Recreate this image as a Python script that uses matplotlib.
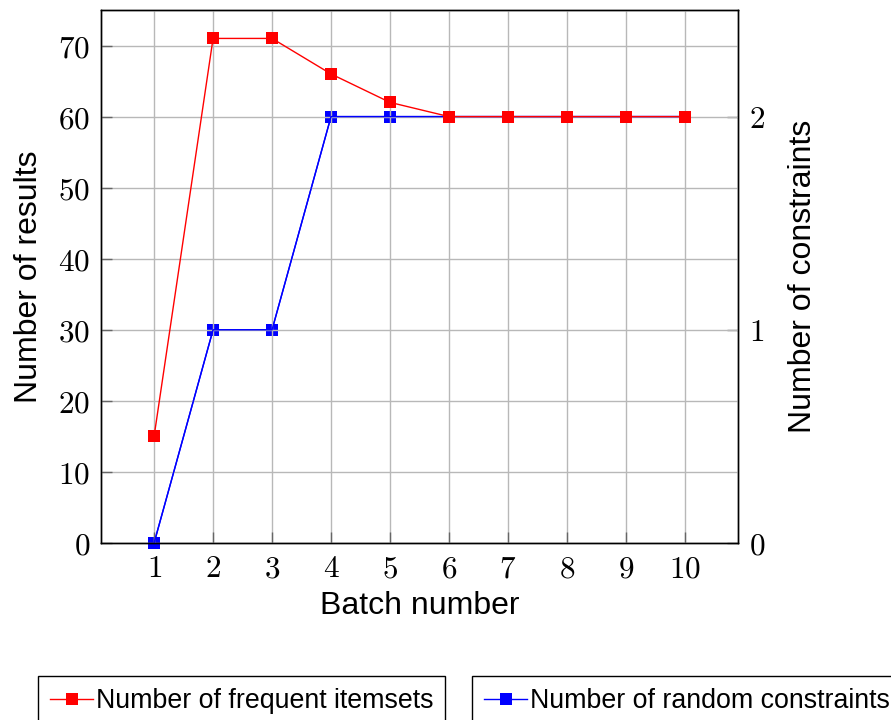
import matplotlib
matplotlib.use("Agg")
import matplotlib.pyplot as plt

batch = [1, 2, 3, 4, 5, 6, 7, 8, 9, 10]
frequent_itemsets = [15, 71, 71, 66, 62, 60, 60, 60, 60, 60]
random_constraints = [0, 1, 1, 2, 2, 2, 2, 2, 2, 2]
left_ticks = [0, 10, 20, 30, 40, 50, 60, 70]
right_ticks = [0, 1, 2]

plt.rcParams['mathtext.fontset'] = 'cm'
plt.rcParams['font.family'] = ['Liberation Sans', 'DejaVu Sans']

fig = plt.figure(figsize=(8.91, 7.2), dpi=100)
ax = fig.add_axes([101/891, 1 - 543/720, (738 - 101)/891, (543 - 10)/720])
ax2 = ax.twinx()

# left axis on top: its grid crosses the blue markers, red hides blue at 60
ax.set_zorder(ax2.get_zorder() + 1)
ax.patch.set_visible(False)

l2, = ax2.plot(batch, random_constraints, color='blue', lw=1, marker='s',
               markersize=8.5, markeredgewidth=0, clip_on=False,
               label='Number of random constraints')
# blue line again, above the grid, still on the right-hand scale
ax.plot(batch, random_constraints, color='blue', lw=1, transform=ax2.transData,
        zorder=2.5, clip_on=False)
l1, = ax.plot(batch, frequent_itemsets, color='red', lw=1, marker='s',
              markersize=8.5, markeredgewidth=0, clip_on=False, zorder=3,
              label='Number of frequent itemsets')

ax.set_xlim(0.1, 10.9)
ax.set_ylim(0, 75)
ax2.set_ylim(0, 2.5)

ax.set_xticks(batch)
ax.set_xticklabels([f'${b}$' for b in batch])
ax.set_yticks(left_ticks)
ax.set_yticklabels([f'${t}$' for t in left_ticks])
ax2.set_yticks(right_ticks)
ax2.set_yticklabels([f'${t}$' for t in right_ticks])

ax.grid(True, color='#b8b8b8', lw=1)
ax.tick_params(axis='both', direction='in', length=8, width=1, color='#666666',
               labelsize=22.5, pad=8)
ax.tick_params(axis='y', right=False)
ax2.tick_params(axis='y', direction='in', length=8, width=1, color='#666666',
                labelsize=22.5, pad=8)

for a in (ax, ax2):
    for s in a.spines.values():
        s.set_color('black')
        s.set_linewidth(1)

ax.set_xlabel('Batch number', fontsize=23, labelpad=5)
ax.set_ylabel('Number of results', fontsize=23, labelpad=10)
ax2.set_ylabel('Number of constraints', fontsize=23, labelpad=16)

leg_kw = dict(fontsize=19.3, frameon=True, fancybox=False, edgecolor='black',
              handlelength=1.6, handletextpad=0.1, borderpad=0.45,
              borderaxespad=0, framealpha=1)
leg1 = fig.legend(handles=[l1], loc='upper left',
                  bbox_to_anchor=(38/891, 1 - 676/720), **leg_kw)
leg2 = fig.legend(handles=[l2], loc='upper left',
                  bbox_to_anchor=(472/891, 1 - 676/720), **leg_kw)
for lg in (leg1, leg2):
    lg.get_frame().set_linewidth(1)

fig.savefig('out.png', dpi=100)
